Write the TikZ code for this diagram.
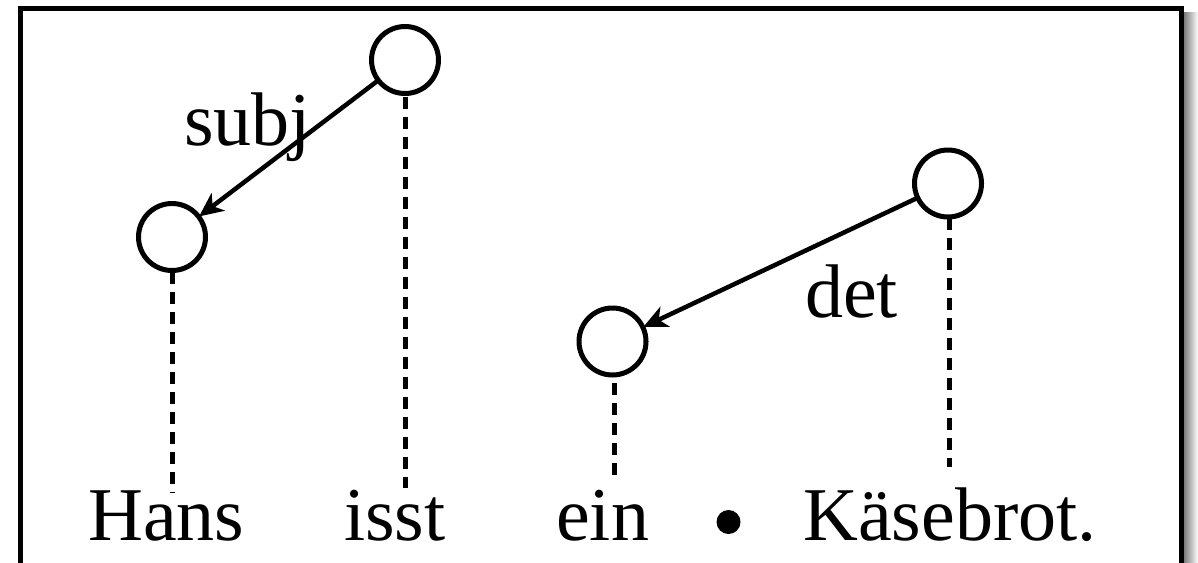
\documentclass[tikz,border=0pt]{standalone}
\usepackage{fontspec}
\setmainfont{Liberation Serif}
\usetikzlibrary{arrows.meta}
\begin{document}
\begin{tikzpicture}[x=1pt,y=-1pt,
  word/.style={anchor=base west,inner sep=0pt,font=\fontsize{76}{90}\selectfont},
  tok/.style={circle,draw,line width=5pt,minimum size=67pt,inner sep=0pt,outer sep=0pt},
  dep/.style={line width=4.5pt,-{Stealth[length=24pt,width=22pt,inset=7pt]},shorten >=0.5pt},
  proj/.style={line width=5pt,dash pattern=on 12pt off 8pt},
  frame/.style={line width=5.5pt}]
\useasboundingbox (0,0) rectangle (1198,562);
\clip (0,0) rectangle (1198,562);
% shadow and frame
\shade[left color=black!55,right color=white] (1183,12) rectangle (1198,600);
\draw[frame] (20.5,8.5) rectangle (1181.5,620);
% words
\node[word] (w1) at (88,540) {Hans};
\node[word] (w2) at (344,540) {isst};
\node[word] (w3) at (556,540) {ein};
\node[circle,fill,inner sep=0pt,minimum size=24pt] (dot) at (728.5,522) {};
\node[word] (w4) at (803,540) {Käsebrot.};
% token nodes
\node[tok] (hans) at (172,237) {};
\node[tok] (isst) at (405,60) {};
\node[tok] (ein) at (612.5,341.5) {};
\node[tok] (kase) at (948,183.5) {};
% projection ends
\coordinate (p1) at (172,493);
\coordinate (p2) at (405,488);
\coordinate (p3) at (614,477);
\coordinate (p4) at (949,467);
\draw[proj] ([yshift=-1pt]hans.south) -- (p1);
\draw[proj] ([yshift=-3pt]isst.south) -- (p2);
\draw[proj] ([yshift=-8pt]ein.south -| p3) -- (p3);
\draw[proj] ([yshift=-1pt]kase.south -| p4) -- (p4);
% dependencies
\draw[dep] (isst) -- (hans);
\draw[dep] (kase) -- (ein);
% labels
\node[word] (subj) at (184,145) {subj};
\node[word] (det) at (805,317) {det};
\end{tikzpicture}
\end{document}
